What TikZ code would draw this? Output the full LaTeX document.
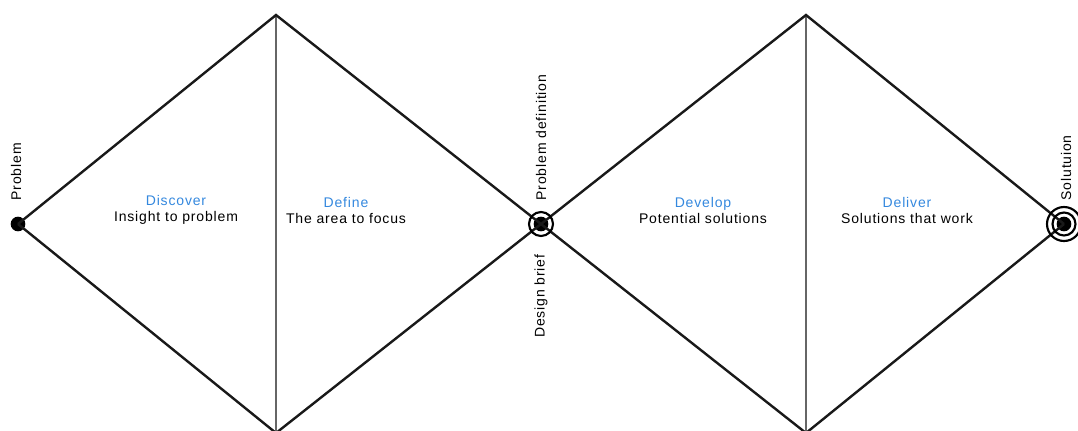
\documentclass[tikz,border=0pt]{standalone}
\usepackage{fontspec}
\setmainfont[LetterSpace=6]{Liberation Sans}
\definecolor{phaseblue}{RGB}{52,136,222}

\begin{document}
\begin{tikzpicture}[x=0.75pt,y=-0.75pt,every node/.style={font=\fontsize{10.5}{12}\selectfont},
  edge/.style={line width=1.8pt,black!90},
  split/.style={line width=1pt,black!60},
  dot/.style={circle,fill=black,inner sep=0pt,minimum size=11pt},
  ring/.style={line width=1.6pt,black}]
\useasboundingbox (0,0) rectangle (1078,430);
% points of the two diamonds
\node[dot] (prob) at (18,224) {};
\node[dot] (brief) at (541,224) {};
\node[dot] (sol) at (1064,224) {};
\coordinate (top1) at (276,15);
\coordinate (bot1) at (276,433);
\coordinate (top2) at (806,15);
\coordinate (bot2) at (806,433);
\draw[split] (top1) -- (bot1);
\draw[split] (top2) -- (bot2);
\draw[edge] (prob.center) -- (top1) -- (brief.center) -- (top2) -- (sol.center);
\draw[edge] (prob.center) -- (bot1) -- (brief.center) -- (bot2) -- (sol.center);
\draw[ring] (brief) circle (12);
\draw[ring] (sol) circle (11.5);
\draw[ring] (sol) circle (17);
% phase texts
\node[align=center] (discover) at (176,210) {\textcolor{phaseblue}{Discover}\\Insight to problem};
\node[align=center] (define) at (346,210) {\textcolor{phaseblue}{Define}\\The area to focus};
\node[align=center] (develop) at (703,210) {\textcolor{phaseblue}{Develop}\\Potential solutions};
\node[align=center] (deliver) at (907,210) {\textcolor{phaseblue}{Deliver}\\Solutions that work};
% point labels
\node[rotate=90,anchor=west] (problbl) at (16,205) {Problem};
\node[rotate=90,anchor=west] (deflbl) at (541,205) {Problem definition};
\node[rotate=90,anchor=east] (brieflbl) at (541,250) {Design brief};
\node[rotate=90,anchor=west] (sollbl) at (1066,205) {Solutuion};
\end{tikzpicture}
\end{document}
